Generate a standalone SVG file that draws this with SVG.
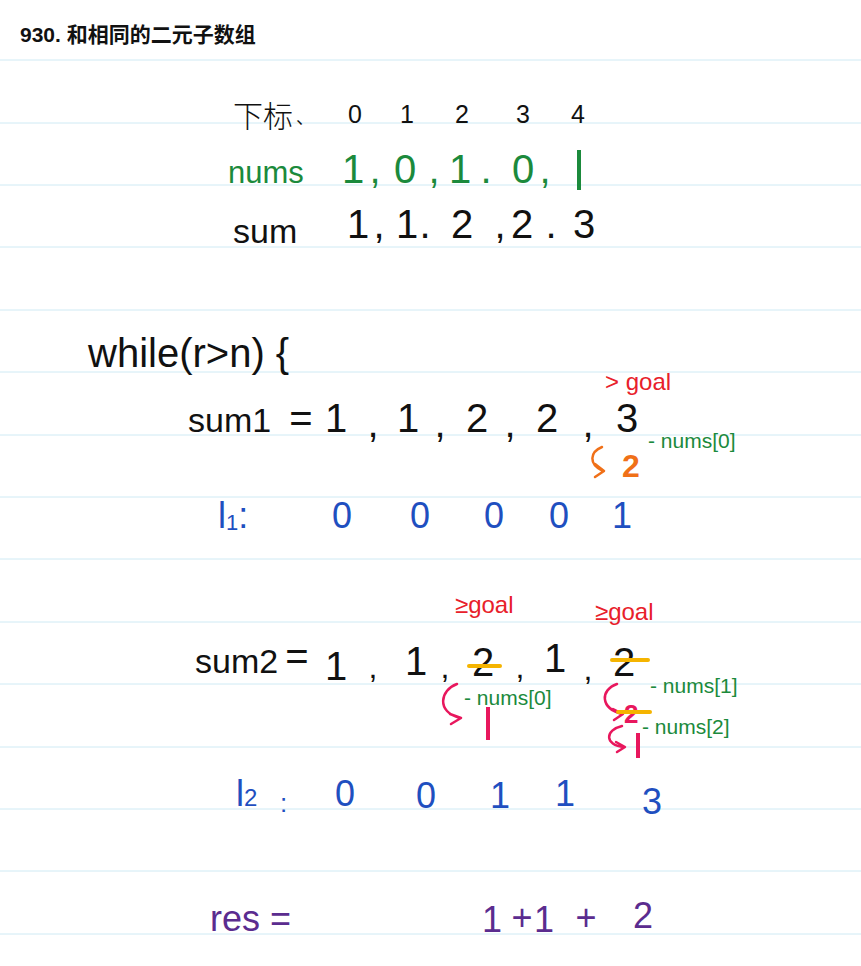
<svg xmlns="http://www.w3.org/2000/svg" width="861" height="966" viewBox="0 0 861 966">
<style>
.rule{stroke:#cfeaf4;stroke-width:1}
.t{font-family:"Liberation Sans","Noto Sans CJK SC",sans-serif}
.k{fill:#111}
.g{fill:#1b8a3c}
.b{fill:#1f4fc0}
.r{fill:#e8202a}
.p{fill:#e8175d}
.o{fill:#f07018}
.v{fill:#5b2c8f}
.m{text-anchor:middle}
.arr{fill:none;stroke-width:2.5;stroke-linecap:round;stroke-linejoin:round}
</style>
<rect width="861" height="966" fill="#fff"/>
<g id="rules">
<line class="rule" x1="0" y1="60" x2="861" y2="60"/>
<line class="rule" x1="0" y1="123" x2="861" y2="123"/>
<line class="rule" x1="0" y1="185" x2="861" y2="185"/>
<line class="rule" x1="0" y1="247" x2="861" y2="247"/>
<line class="rule" x1="0" y1="310" x2="861" y2="310"/>
<line class="rule" x1="0" y1="372" x2="861" y2="372"/>
<line class="rule" x1="0" y1="435" x2="861" y2="435"/>
<line class="rule" x1="0" y1="497" x2="861" y2="497"/>
<line class="rule" x1="0" y1="559" x2="861" y2="559"/>
<line class="rule" x1="0" y1="622" x2="861" y2="622"/>
<line class="rule" x1="0" y1="684" x2="861" y2="684"/>
<line class="rule" x1="0" y1="747" x2="861" y2="747"/>
<line class="rule" x1="0" y1="809" x2="861" y2="809"/>
<line class="rule" x1="0" y1="871" x2="861" y2="871"/>
<line class="rule" x1="0" y1="934" x2="861" y2="934"/>
</g>
<text class="t k" x="20" y="42" font-size="21" font-weight="bold">930. 和相同的二元子数组</text>

<g id="index-row" class="t k" font-size="25">
<text x="233" y="127" font-size="30" font-weight="300">下标</text>
<text x="296" y="124" font-size="18">、</text>
<text class="m" x="355" y="123">0</text>
<text class="m" x="407" y="123">1</text>
<text class="m" x="462" y="123">2</text>
<text class="m" x="523" y="123">3</text>
<text class="m" x="578" y="123">4</text>
</g>

<g id="nums-row" class="t g" font-size="40">
<text x="228" y="183" font-size="31">nums</text>
<text class="m" x="353" y="183">1</text>
<text class="m" x="375" y="183">,</text>
<text class="m" x="405" y="183">0</text>
<text class="m" x="434" y="183">,</text>
<text class="m" x="460" y="183">1</text>
<text class="m" x="486" y="183">.</text>
<text class="m" x="523" y="183">0</text>
<text class="m" x="545" y="183">,</text>
<rect x="577" y="150" width="4" height="40"/>
</g>

<g id="sum-row" class="t k" font-size="40">
<text x="233" y="243" font-size="34">sum</text>
<text class="m" x="358" y="238">1</text>
<text class="m" x="379" y="238">,</text>
<text class="m" x="407" y="238">1</text>
<text class="m" x="425" y="238">.</text>
<text class="m" x="462" y="238">2</text>
<text class="m" x="500" y="238">,</text>
<text class="m" x="522" y="238">2</text>
<text class="m" x="551" y="238">.</text>
<text class="m" x="584" y="238">3</text>
</g>

<text class="t k" x="88" y="367" font-size="40">while(r&gt;n) {</text>

<g id="sum1-row" class="t k" font-size="40">
<text x="188" y="432" font-size="34">sum1</text>
<text class="m" x="301" y="432">=</text>
<text class="m" x="336" y="432">1</text>
<text class="m" x="373" y="437">,</text>
<text class="m" x="408" y="432">1</text>
<text class="m" x="440" y="437">,</text>
<text class="m" x="477" y="432">2</text>
<text class="m" x="510" y="437">,</text>
<text class="m" x="547" y="432">2</text>
<text class="m" x="588" y="437">,</text>
<text class="m" x="627" y="432">3</text>
</g>
<text class="t r" x="605" y="390" font-size="24">&gt; goal</text>
<path class="arr" d="M602 447 C590 452 588 464 603 471 M595 464 L604 471 L595 477" stroke="#f07018" stroke-width="4"/>
<text class="t o" x="622" y="477" font-size="32" font-weight="bold">2</text>
<text class="t g" x="648" y="448" font-size="21">- nums[0]</text>

<g id="l1-row" class="t b" font-size="36">
<text x="218" y="528">l<tspan font-size="22" dy="2">1</tspan><tspan dy="-2">:</tspan></text>
<text class="m" x="342" y="528">0</text>
<text class="m" x="420" y="528">0</text>
<text class="m" x="494" y="528">0</text>
<text class="m" x="559" y="528">0</text>
<text class="m" x="622" y="528">1</text>
</g>

<text class="t r" x="455" y="613" font-size="24">≥goal</text>
<text class="t r" x="595" y="620" font-size="24">≥goal</text>

<g id="sum2-row" class="t k" font-size="40">
<text x="195" y="673" font-size="34">sum2</text>
<text class="m" x="297" y="670">=</text>
<text class="m" x="336" y="680">1</text>
<text class="m" x="373" y="678" font-size="32">,</text>
<text class="m" x="416" y="675">1</text>
<text class="m" x="445" y="678" font-size="32">,</text>
<text class="m" x="483" y="676">2</text>
<text class="m" x="520" y="678" font-size="32">,</text>
<text class="m" x="555" y="672">1</text>
<text class="m" x="588" y="680" font-size="32">,</text>
<text class="m" x="624" y="676">2</text>
</g>
<line x1="469" y1="666" x2="500" y2="666" stroke="#f5b400" stroke-width="4" stroke-linecap="round"/>
<line x1="612" y1="660" x2="648" y2="660" stroke="#f5b400" stroke-width="4" stroke-linecap="round"/>

<g id="sum2-notes">
<path class="arr" d="M457 684 C440 690 436 712 460 718 M450 714 L461 718 L451 724" stroke="#e8175d"/>
<rect x="486" y="707" width="4" height="33" fill="#e8175d"/>
<text class="t g" x="464" y="705" font-size="21">- nums[0]</text>
<path class="arr" d="M617 684 C600 690 600 708 622 714 M613 709 L623 714 L614 720" stroke="#e8175d"/>
<text class="t p" x="624" y="723" font-size="26" font-weight="bold">2</text>
<line x1="618" y1="712" x2="650" y2="712" stroke="#f5b400" stroke-width="4" stroke-linecap="round"/>
<path class="arr" d="M622 726 C605 730 604 745 624 747 M616 742 L625 747 L617 752" stroke="#e8175d"/>
<rect x="636" y="733" width="4" height="25" fill="#e8175d"/>
<text class="t g" x="650" y="693" font-size="21">- nums[1]</text>
<text class="t g" x="642" y="734" font-size="21">- nums[2]</text>
</g>

<g id="l2-row" class="t b" font-size="36">
<text x="236" y="806">l<tspan font-size="24" dy="0">2</tspan></text>
<text x="280" y="812" font-size="26">:</text>
<text class="m" x="345" y="806">0</text>
<text class="m" x="426" y="808">0</text>
<text class="m" x="500" y="808">1</text>
<text class="m" x="565" y="806">1</text>
<text class="m" x="652" y="814">3</text>
</g>

<g id="res-row" class="t v" font-size="36">
<text x="210" y="931">res =</text>
<text class="m" x="492" y="932">1</text>
<text class="m" x="522" y="930">+</text>
<text class="m" x="544" y="932">1</text>
<text class="m" x="586" y="930">+</text>
<text class="m" x="643" y="928">2</text>
</g>
</svg>
